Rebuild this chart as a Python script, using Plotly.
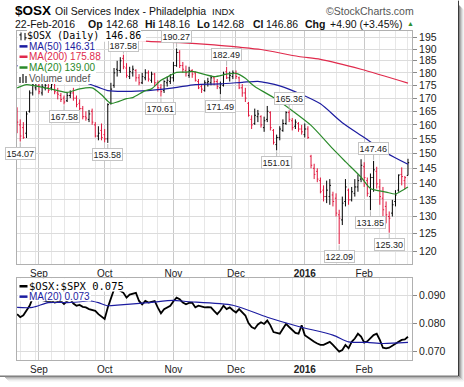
import math
import pandas as pd
import plotly.graph_objects as go

# ---------------- data ----------------
HOLIDAYS = ["2015-09-07", "2015-11-26", "2015-12-25", "2016-01-01", "2016-01-18", "2016-02-15"]
trade_dates = [d for d in pd.bdate_range("2015-08-21", "2016-02-22")
               if d.strftime("%Y-%m-%d") not in HOLIDAYS]

opens = [165, 160, 159, 157, 165, 172, 174, 175, 172, 174,
         174, 174, 176, 172, 171, 170, 169, 171, 172, 170,
         168, 166, 163, 162, 165, 160, 156, 158, 156.5, 155,
         168, 175, 181.5, 181, 186, 182, 178.5, 180, 181, 178,
         176, 178, 180, 177, 179.5, 176, 174, 173, 176, 176.5,
         178, 183, 188.5, 183, 181, 179, 181, 180, 176.5, 174.5,
         173, 176, 176, 178, 176.5, 174, 175, 180.5, 178, 178.5,
         180, 178, 174, 172, 168, 162, 160.5, 163, 163, 159,
         162, 164.5, 158, 153, 155.5, 158, 160.5, 164.5, 161.5, 159.5,
         160.5, 158.5, 156.5, 158.5, 149, 145, 144, 141, 138, 136,
         136, 136.5, 135.5, 130.5, 129, 134.5, 138, 135, 137, 139,
         141.5, 145.5, 141, 136, 142, 144, 139, 135.5, 133, 130,
         131, 134.5, 138, 143, 141, 142.68]
highs = [166.5, 162, 161, 165, 173, 176.5, 177.5, 176, 176.5, 177,
         175.5, 176.5, 176.5, 174, 172, 171, 172, 173, 174, 171,
         169.5, 167, 165, 165.5, 166, 161, 159.5, 160.5, 158.5, 168,
         176, 182, 185, 186.5, 187.58, 184, 182.5, 183, 181.5, 179.5,
         180, 181.5, 181, 180.5, 180, 177, 175.5, 177, 178.5, 179.5,
         184.5, 190.27, 189.5, 184.5, 183, 182.5, 181.5, 180.5, 177.5, 175.5,
         177, 178, 179, 178.5, 177.5, 176.5, 180.5, 182.49, 180.5, 181,
         181, 178.5, 175.5, 174, 168.5, 163.5, 166, 165.5, 163.5, 163,
         167, 165, 158.5, 156.5, 159.5, 162, 165, 165.36, 162.5, 162,
         161, 160, 160.5, 159.5, 149.5, 146.5, 145, 142, 139.5, 141,
         141.5, 137.5, 137, 132, 136, 141.5, 138.5, 139, 141.5, 143,
         148, 147, 142, 143.3, 147.46, 145.5, 141.5, 139, 134.5, 131.5,
         135, 138, 143, 145.3, 142.5, 148.16]
lows = [157, 154.07, 155, 155.3, 164.5, 171, 173, 171.5, 171, 173,
        172, 173, 171.5, 169.5, 168.5, 167.58, 168.5, 170, 169, 166.5,
        165, 162, 161.5, 161, 160, 155.5, 154.5, 154.5, 153.8, 153.58,
        167.5, 174, 178.5, 180, 181.5, 178, 177.5, 178.5, 176.5, 175,
        175.5, 177, 176.5, 176, 174.5, 172.5, 170.61, 172, 174.5, 175.5,
        176.5, 182.5, 182, 180, 178.5, 178, 178, 176.5, 173.5, 172,
        172.5, 174.5, 175, 175, 173.5, 171.49, 174.5, 177.5, 176.5, 177.5,
        177.5, 173.5, 170.5, 168.5, 163, 158.5, 160, 161, 159, 157.5,
        161, 158, 153, 151.01, 154.5, 157.5, 160, 161, 158, 158.5,
        157.5, 156.5, 155.5, 155, 145, 141.5, 140.5, 137, 134.5, 134,
        133.5, 133, 130, 122.09, 127.5, 133, 133.5, 134.5, 136, 137.5,
        140.5, 139, 136, 131.85, 137.5, 138.5, 133.5, 128.5, 128, 125.30,
        130, 133, 137.5, 139.5, 138.3, 142.68]
closes = [161, 156, 155.5, 164, 172, 175.5, 176.5, 172.5, 174.5, 175,
          173, 175.5, 172.5, 171.5, 169.5, 168.5, 171, 172, 170, 167.5,
          166, 163, 162.5, 164, 161, 156, 157, 155.5, 155, 167.5,
          173.5, 180, 181, 185, 182.5, 179, 180.5, 181.5, 178, 176,
          178.5, 180, 177.5, 179.5, 176, 174, 172.5, 176.5, 177, 178,
          183, 188.5, 183, 181.5, 180, 181, 179.5, 177, 174, 173.5,
          176, 176.5, 178, 176.5, 174.5, 175.5, 179.5, 178, 179, 180,
          178.5, 174, 172, 170, 163.5, 160, 163.5, 164, 160, 161.5,
          165, 159, 153.8, 155.5, 158.5, 160.5, 164.5, 162, 159, 161,
          158.5, 157.5, 158.5, 155.5, 146, 143, 141.5, 137.5, 136, 138,
          139.5, 134.5, 131, 129.5, 134, 139, 135, 137.5, 139, 141,
          146, 142, 137, 142, 144.5, 140, 136, 132, 130.5, 129.5,
          133.5, 136.5, 142.8, 142.3, 141.96, 146.86]

ma20_idx = [0, 3, 9, 13, 16, 20, 24, 27, 30, 35, 37, 41, 43, 46, 48, 51, 54, 56, 63, 67,
            70, 73, 75, 76, 82, 88, 94, 101, 105, 110, 113, 118, 121, 123, 125]
ma20_val = [174.0, 175.3, 174.0, 172.9, 172.2, 173.6, 174.0, 171.3, 168.0, 169.8, 170.2, 172.9,
            173.6, 177.0, 178.3, 180.2, 180.3, 180.6, 178.5, 179.5, 179.8, 177.8, 175.5, 174.5,
            170.2, 165.2, 159.8, 151.5, 147.2, 142.1, 138.5, 137.4, 136.8, 137.8, 139.00]
ma50_idx = [0, 10, 20, 23, 26, 29, 40, 50, 57, 65, 72, 77, 80, 84, 91, 97, 104, 111, 118, 125]
ma50_val = [183.0, 180.0, 177.0, 175.5, 174.2, 172.9, 172.8, 174.0, 175.3, 175.6, 176.2, 176.6,
            176.0, 174.8, 171.4, 167.8, 160.8, 155.5, 150.2, 146.31]
ma200_idx = [0, 10, 20, 30, 42, 52, 63, 71, 78, 90, 97, 110, 125]
ma200_val = [198.8, 197.6, 196.3, 195.0, 193.3, 192.8, 191.8, 190.8, 189.8, 186.8, 185.6,
             181.5, 175.88]

ratio_vals = [0.0832, 0.0821, 0.0828, 0.0845, 0.0862, 0.0890, 0.0897, 0.0885, 0.0882, 0.0880,
              0.0876, 0.0880, 0.0873, 0.0876, 0.0879, 0.0868, 0.0879, 0.0885, 0.0870, 0.0862,
              0.0865, 0.0858, 0.0856, 0.0850, 0.0846, 0.0844, 0.0832, 0.0822, 0.0815, 0.0856,
              0.0892, 0.0920, 0.0926, 0.0915, 0.0908, 0.0891, 0.0902, 0.0905, 0.0908, 0.0879,
              0.0867, 0.0879, 0.0873, 0.0876, 0.0879, 0.0855, 0.0835, 0.0850, 0.0856, 0.0862,
              0.0878, 0.0891, 0.0885, 0.0873, 0.0867, 0.0872, 0.0873, 0.0856, 0.0862, 0.0859,
              0.0856, 0.0857, 0.0856, 0.0844, 0.0832, 0.0845, 0.0862, 0.0850, 0.0856, 0.0846,
              0.0838, 0.0850, 0.0840, 0.0827, 0.0800, 0.0786, 0.0780, 0.0795, 0.0803, 0.0797,
              0.0809, 0.0792, 0.0768, 0.0765, 0.0762, 0.0780, 0.0797, 0.0786, 0.0774, 0.0765,
              0.0762, 0.0792, 0.0757, 0.0748, 0.0739, 0.0733, 0.0727, 0.0722, 0.0722, 0.0728,
              0.0733, 0.0722, 0.0710, 0.0698, 0.0704, 0.0722, 0.0710, 0.0733, 0.0745, 0.0762,
              0.0752, 0.0730, 0.0735, 0.0745, 0.0757, 0.0762, 0.0740, 0.0712, 0.0710, 0.0712,
              0.0720, 0.0725, 0.0733, 0.0740, 0.0742, 0.0751]
ratio_ma_idx = [0, 5, 10, 16, 21, 23, 26, 29, 32, 42, 50, 54, 69, 80, 90, 101, 106, 112, 117, 125]
ratio_ma_val = [0.0856, 0.0856, 0.0873, 0.0873, 0.0877, 0.0880, 0.0873, 0.0862, 0.0864, 0.0873,
                0.0881, 0.0877, 0.0864, 0.0821, 0.0788, 0.0757, 0.0733, 0.0731, 0.0727, 0.0731]

month_labels = ["Sep", "Oct", "Nov", "Dec", "<b>2016</b>", "Feb"]
price_ticks = [120, 125, 130, 135, 140, 145, 150, 155, 160, 165, 170, 175, 180, 185, 190, 195]
ratio_ticks = [0.070, 0.080, 0.090]
callouts = [(1, "low"), (15, "low"), (29, "low"), (34, "high"), (46, "low"), (51, "high"),
            (65, "low"), (67, "high"), (83, "low"), (87, "high"), (103, "low"), (113, "low"),
            (114, "high"), (119, "low")]

# ---------------- layout helpers ----------------
W, H = 464, 387
PL, PR, PT, PB = 17, 412, 31, 367
MAIN_BOT, LOW_TOP = 269, 283


def fx(x):
    return (x - PL) / (PR - PL)


def fy(y):
    return (PB - y) / (PB - PT)


SANS = "Liberation Sans, Arial, sans-serif"
MONO = "DejaVu Sans Mono, monospace"
RED = "#e0173d"
RED_MA = "#e02a4c"
BLUE = "#1c1ca0"
GREEN = "#2a8a2a"

n = len(closes)
idx = list(range(n))
month_idx = [i for i in idx if i > 0 and trade_dates[i].month != trade_dates[i - 1].month]
week_idx = [i for i in idx if i > 0 and trade_dates[i].weekday() < trade_dates[i - 1].weekday()]
up = [closes[i] >= (closes[i - 1] if i > 0 else opens[i]) for i in idx]

fig = go.Figure()

for flag, col in [(True, "#000000"), (False, RED)]:
    sel = [i for i in idx if up[i] == flag]
    fig.add_trace(go.Ohlc(
        x=sel, open=[opens[i] for i in sel], high=[highs[i] for i in sel],
        low=[lows[i] for i in sel], close=[closes[i] for i in sel],
        increasing=dict(line=dict(color=col, width=1)),
        decreasing=dict(line=dict(color=col, width=1)),
        tickwidth=0.38, xaxis="x", yaxis="y", showlegend=False, hoverinfo="skip"))

for xs, ys, col in [(ma200_idx, ma200_val, RED_MA), (ma50_idx, ma50_val, BLUE), (ma20_idx, ma20_val, GREEN)]:
    fig.add_trace(go.Scatter(x=xs, y=ys, mode="lines", line=dict(color=col, width=1.2, shape="spline", smoothing=0.7),
                             xaxis="x", yaxis="y", showlegend=False, hoverinfo="skip"))

fig.add_trace(go.Scatter(x=idx, y=ratio_vals, mode="lines", line=dict(color="#000", width=1.8),
                         xaxis="x2", yaxis="y2", showlegend=False, hoverinfo="skip"))
fig.add_trace(go.Scatter(x=ratio_ma_idx, y=ratio_ma_val, mode="lines",
                         line=dict(color=BLUE, width=1.1, shape="spline", smoothing=0.7),
                         xaxis="x2", yaxis="y2", showlegend=False, hoverinfo="skip"))

x_range = [(PL - 17.1) / 3.127, (PR - 17.1) / 3.127]
tickfont = dict(family=SANS, size=10, color="#222")
xcommon = dict(range=x_range, tickmode="array", tickvals=month_idx, ticktext=month_labels,
               showgrid=True, gridcolor="#c9c9c9", gridwidth=1,
               minor=dict(tickmode="array", tickvals=week_idx, showgrid=True, gridcolor="#e7e7e7", ticks=""),
               showline=True, mirror=True, linecolor="#b0b0b0", linewidth=1, ticks="",
               tickfont=tickfont, zeroline=False, fixedrange=True)
ycommon = dict(side="right", tickmode="array", ticks="outside", ticklen=4, tickcolor="#8a8a8a",
               showgrid=True, gridcolor="#dcdcdc", showline=True, mirror=True, linecolor="#b0b0b0",
               tickfont=dict(family=SANS, size=10.5, color="#222"), zeroline=False, fixedrange=True)

fig.update_layout(
    width=W, height=H, margin=dict(l=PL, r=W - PR, t=PT, b=H - PB, pad=0),
    paper_bgcolor="white", plot_bgcolor="white", showlegend=False,
    xaxis=dict(**xcommon, domain=[0, 1], anchor="y", rangeslider=dict(visible=False)),
    xaxis2=dict(**xcommon, domain=[0, 1], anchor="y2", matches="x"),
    yaxis=dict(**ycommon, domain=[fy(MAIN_BOT), 1], anchor="x", type="log",
               range=[math.log10(116.72), math.log10(197.92)],
               tickvals=price_ticks, ticktext=[str(v) for v in price_ticks]),
    yaxis2=dict(**ycommon, domain=[0, fy(LOW_TOP)], anchor="x2",
                range=[0.06682, 0.09619],
                tickvals=ratio_ticks, ticktext=["%.3f" % v for v in ratio_ticks]),
)

shapes = []
# legend backgrounds
for x0, x1, y0, y1 in [(17.6, 146, 31.6, 42), (17.6, 96, 42, 85), (17.6, 130, 283.6, 297), (17.6, 91, 297, 307)]:
    shapes.append(dict(type="rect", xref="paper", yref="paper", x0=fx(x0), x1=fx(x1), y0=fy(y1), y1=fy(y0),
                       fillcolor="white", line=dict(width=0), layer="above"))
# legend dashes
for yy, col in [(46.7, BLUE), (57.3, RED_MA), (68.3, GREEN), (291.7, "#000"), (302.3, BLUE)]:
    shapes.append(dict(type="line", xref="paper", yref="paper", x0=fx(19.5), x1=fx(27.5), y0=fy(yy), y1=fy(yy),
                       line=dict(color=col, width=2.5), layer="above"))
# ohlc icon
for (x0, y0, x1, y1) in [(21, 32.5, 21, 40.5), (19.3, 35, 21, 35), (25, 33, 25, 40.5), (25, 38, 26.7, 38)]:
    shapes.append(dict(type="line", xref="paper", yref="paper", x0=fx(x0), x1=fx(x1), y0=fy(y0), y1=fy(y1),
                       line=dict(color="#000", width=1), layer="above"))
# volume icon
for (x0, x1, y0) in [(19, 21, 78), (22, 24, 75), (25, 27, 77)]:
    shapes.append(dict(type="rect", xref="paper", yref="paper", x0=fx(x0), x1=fx(x1), y0=fy(84), y1=fy(y0),
                       fillcolor="#707070", line=dict(width=0), layer="above"))
# outer frame + shadow
shapes.append(dict(type="line", xref="paper", yref="paper", x0=fx(458.5), x1=fx(458.5), y0=fy(383.5), y1=fy(0),
                   line=dict(color="#3a3a3a", width=1)))
shapes.append(dict(type="line", xref="paper", yref="paper", x0=fx(0), x1=fx(458.5), y0=fy(383.5), y1=fy(383.5),
                   line=dict(color="#3a3a3a", width=1)))
for k, c in enumerate(["#8c8c8c", "#adadad", "#cacaca", "#e2e2e2", "#f2f2f2"]):
    o = 1 + k
    shapes.append(dict(type="line", xref="paper", yref="paper", x0=fx(458.5 + o), x1=fx(458.5 + o),
                       y0=fy(383.5 + o), y1=fy(4 + o), line=dict(color=c, width=1)))
    shapes.append(dict(type="line", xref="paper", yref="paper", x0=fx(4 + o), x1=fx(458.5 + o),
                       y0=fy(383.5 + o), y1=fy(383.5 + o), line=dict(color=c, width=1)))
fig.update_layout(shapes=shapes)

ann = []
for i, kind in callouts:
    v = lows[i] if kind == "low" else highs[i]
    off = 12 if kind == "low" else -12
    if i == 34:
        off = -9
    ann.append(dict(xref="x", yref="y", x=i, y=math.log10(v), text="%.2f" % v, showarrow=True,
                    arrowhead=0, arrowwidth=1, arrowcolor="#b8b8b8", ax=0, ay=off,
                    standoff=1, bgcolor="white", bordercolor="#c4c4c4", borderwidth=1, borderpad=0.5,
                    font=dict(family=SANS, size=9, color="#222")))


def txt(x, y, text, size=10.5, color="#111", family=SANS, xanchor="left", bg=None):
    d = dict(xref="paper", yref="paper", x=fx(x), y=fy(y), text=text, showarrow=False,
             xanchor=xanchor, yanchor="middle", font=dict(family=family, size=size, color=color),
             borderpad=0, borderwidth=0)
    if bg:
        d["bgcolor"] = bg
    return d


chg = closes[-1] - closes[-2]
pct = chg / closes[-2] * 100
ann += [
    txt(27, 36.0, "$OSX (Daily) %.2f" % closes[-1], 10, "#000", MONO, bg="white"),
    txt(29, 46.7, "MA(50) %.2f" % ma50_val[-1], 10, BLUE),
    txt(29, 57.3, "MA(200) %.2f" % ma200_val[-1], 10, RED_MA),
    txt(29, 68.3, "MA(20) %.2f" % ma20_val[-1], 10, GREEN),
    txt(29, 79.3, "Volume undef", 10, "#555"),
    txt(29, 291.7, "$OSX:$SPX %.3f" % ratio_vals[-1], 10.5, "#000", MONO),
    txt(29, 302.3, "MA(20) %.3f" % ratio_ma_val[-1], 10, BLUE),
    txt(14.5, 10.5, "<b>$OSX</b>", 13.5, "#000"),
    txt(54.5, 10.5, "Oil Services Index - Philadelphia", 10.5),
    txt(211.5, 11, "INDX", 9.5),
    txt(414, 10.5, "©StockCharts.com", 10.5, "#555", xanchor="right"),
    txt(14.5, 23.5, trade_dates[-1].strftime("%d-%b-%Y")),
    txt(87.5, 23.5, "<b>Op</b>"), txt(105.5, 23.5, "%.2f" % opens[-1]),
    txt(144.5, 23.5, "<b>Hi</b>"), txt(157.5, 23.5, "%.2f" % highs[-1]),
    txt(196.5, 23.5, "<b>Lo</b>"), txt(211.5, 23.5, "%.2f" % lows[-1]),
    txt(252.5, 23.5, "<b>Cl</b>"), txt(265.5, 23.5, "%.2f" % closes[-1]),
    txt(304.5, 23.5, "<b>Chg</b>"), txt(329.5, 23.5, "%+.2f (%+.2f%%)" % (chg, pct)),
    txt(406.5, 23, "▲", 7, "#2f8f2f"),
]
fig.update_layout(annotations=ann)

fig.write_html("out.html", config={"displayModeBar": False, "staticPlot": True},
               post_script="document.body.style.margin='0';document.body.style.overflow='hidden';")
